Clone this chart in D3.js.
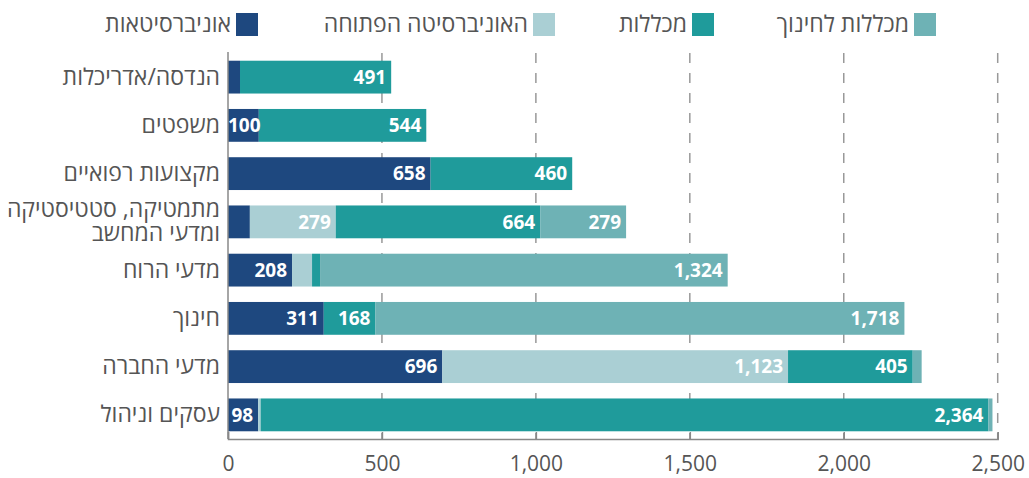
<!DOCTYPE html>
<html><head><meta charset="utf-8">
<script src="https://cdn.jsdelivr.net/npm/d3@7"></script>
<style>
html,body{margin:0;padding:0;background:#fff;}
svg{display:block;font-family:"Open Sans","DejaVu Sans",sans-serif;}
</style></head>
<body>
<svg id="chart" width="1029" height="478"></svg>
<script>
const categories = ["הנדסה/אדריכלות","משפטים","מקצועות רפואיים","מתמטיקה, סטטיסטיקה\nומדעי המחשב","מדעי הרוח","חינוך","מדעי החברה","עסקים וניהול"];
const universities = [39,100,658,71,208,311,696,98];
const openUniversity = [0,0,0,279,65,0,1123,8];
const colleges = [491,544,460,664,26,168,405,2364];
const educationColleges = [0,0,0,279,1324,1718,29,13];
const seriesNames = ["אוניברסיטאות","האוניברסיטה הפתוחה","מכללות","מכללות לחינוך"];
const tickValues = [0,500,1000,1500,2000,2500];

(function(){
const colors = ["#1e487f","#aacfd4","#1f9b9b","#6eb2b5"];

const svg = d3.select("#chart");
const pLeft = 228, pRight = 997.7, pTop = 53, pBottom = 439;

const x = d3.scaleLinear().domain([0,2500]).range([pLeft,pRight]);
const y = d3.scaleBand().domain(categories).range([pTop,pBottom]).paddingInner(0.32).paddingOuter(0.16);

// gridlines
svg.append("g").selectAll("line").data(tickValues.slice(1)).join("line")
  .attr("x1",d=>x(d)).attr("x2",d=>x(d)).attr("y1",pTop).attr("y2",pBottom)
  .attr("stroke","#999").attr("stroke-width",1.5).attr("stroke-dasharray","10,10");

// bottom axis
const xAxis = d3.axisBottom(x).tickValues(tickValues).tickSize(-7).tickPadding(17).tickFormat(d3.format(","));
const ax = svg.append("g").attr("transform",`translate(0,${pBottom})`).call(xAxis);
ax.select(".domain").attr("stroke","#888").attr("stroke-width",1.5);
ax.selectAll(".tick line").attr("stroke","#888").attr("stroke-width",1.5);
ax.selectAll(".tick text").attr("fill","#555").attr("font-size",21).attr("font-family","Open Sans").attr("dy","0.71em");

// stacked data
const stackInput = categories.map((c,i)=>({cat:c, s0:universities[i], s1:openUniversity[i], s2:colleges[i], s3:educationColleges[i]}));
const stack = d3.stack().keys(["s0","s1","s2","s3"])(stackInput);

const gBars = svg.append("g");
stack.forEach((layer,k)=>{
  gBars.append("g").selectAll("rect").data(layer).join("rect")
    .attr("x",d=>x(d[0])).attr("width",d=>x(d[1])-x(d[0]))
    .attr("y",d=>y(d.data.cat)).attr("height",y.bandwidth())
    .attr("fill",colors[k]);
});

// data labels
const fmt = d3.format(",");
const gLab = svg.append("g");
stack.forEach((layer,k)=>{
  layer.forEach(d=>{
    const v = d[1]-d[0];
    if (v < 90) return;
    const t = gLab.append("text")
      .attr("x", x(d[1]) - 5)
      .attr("y", y(d.data.cat)+y.bandwidth()/2)
      .attr("dy","0.35em")
      .attr("text-anchor","end")
      .attr("fill","#fff").attr("font-weight","bold").attr("font-size",19)
      .attr("font-family","Open Sans")
      .text(fmt(v));
    const bb = t.node().getBBox();
    if (bb.x < pLeft) { t.attr("text-anchor","start").attr("x", pLeft); }
  });
});

// y axis line
svg.append("line").attr("x1",pLeft).attr("x2",pLeft).attr("y1",pTop-1).attr("y2",pBottom)
  .attr("stroke","#888").attr("stroke-width",1.5);

// category labels
const gCat = svg.append("g");
categories.forEach(c=>{
  const lines = c.split("\n");
  const cy = y(c)+y.bandwidth()/2;
  const lh = 24;
  const t = gCat.append("text").attr("text-anchor","end").attr("fill","#555")
    .attr("font-size",23).attr("font-family","Open Sans");
  lines.forEach((ln,i)=>{
    t.append("tspan").attr("x",220).attr("y", cy + (i-(lines.length-1)/2)*lh).attr("dy","0.33em").text(ln);
  });
});

// legend
const legendX = [236,533,692,914];
const gLeg = svg.append("g");
seriesNames.forEach((n,i)=>{
  gLeg.append("rect").attr("x",legendX[i]).attr("y",13).attr("width",22).attr("height",23).attr("fill",colors[i]);
  gLeg.append("text").attr("x",legendX[i]-5).attr("y",24).attr("dy","0.33em")
    .attr("text-anchor","end").attr("fill","#555").attr("font-size",23).attr("font-family","Open Sans")
    .text(n);
});
})();
</script>
</body></html>
